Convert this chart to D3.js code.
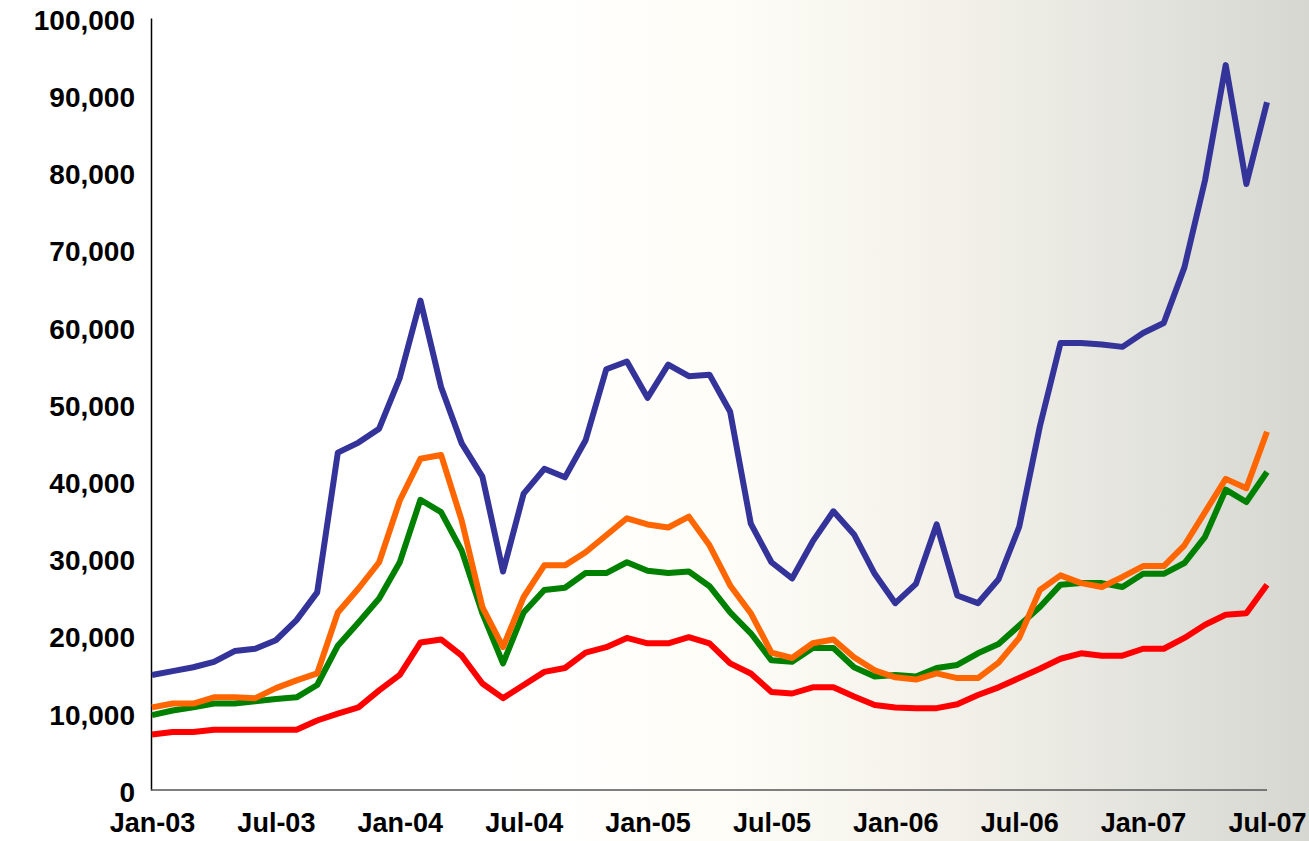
<!DOCTYPE html>
<html>
<head>
<meta charset="utf-8">
<script src="https://cdn.jsdelivr.net/npm/d3@7"></script>
<style>
  html, body { margin: 0; padding: 0; background: #fff; }
  svg { display: block; }
  .tick text { font-family: "Liberation Sans", Arial, sans-serif; font-weight: bold; font-size: 28px; fill: #000; }
  .x-axis .tick text { font-size: 27px; }
</style>
</head>
<body>
<svg></svg>
<script>
"use strict"

// monthly values, Jan-03 .. Jul-07
let blue = [14900, 15400, 15900, 16600, 18000, 18300, 19400, 22000, 25600, 43700,
  45000, 46800, 53400, 63400, 52200, 44900, 40600, 28300, 38400, 41600,
  40500, 45300, 54500, 55500, 50800, 55100, 53600, 53800, 49000, 34500,
  29500, 27400, 32200, 36100, 33100, 28000, 24200, 26700, 34400, 25200,
  24200, 27300, 34100, 47100, 57900, 57900, 57700, 57400, 59200, 60500,
  67700, 79000, 93900, 78500, 89100]
let orange = [10700, 11200, 11200, 12000, 12000, 11900, 13200, 14200, 15100, 23000,
  26100, 29500, 37500, 42900, 43400, 34900, 23700, 18500, 25000, 29100,
  29100, 30800, 33000, 35200, 34400, 34000, 35400, 31700, 26500, 22900,
  17800, 17100, 19000, 19500, 17200, 15500, 14600, 14300, 15100, 14500,
  14500, 16500, 19700, 25900, 27800, 26800, 26300, 27600, 29000, 29000,
  31700, 36000, 40300, 39100, 46400]
let green = [9700, 10300, 10700, 11200, 11200, 11500, 11800, 12000, 13600, 18700,
  21700, 24800, 29500, 37600, 36000, 31000, 22900, 16400, 23000, 25900,
  26200, 28100, 28100, 29500, 28400, 28100, 28300, 26400, 23000, 20300,
  16800, 16600, 18400, 18400, 15900, 14700, 14900, 14700, 15800, 16200,
  17700, 18900, 21300, 23700, 26600, 26800, 26800, 26300, 28000, 28000,
  29400, 32800, 38900, 37300, 41200]
let red = [7200, 7500, 7500, 7800, 7800, 7800, 7800, 7800, 9000, 9900,
  10700, 12900, 14900, 19100, 19500, 17400, 13800, 11900, 13600, 15300,
  15800, 17800, 18500, 19700, 19000, 19000, 19800, 19000, 16400, 15100,
  12700, 12500, 13300, 13300, 12100, 11000, 10700, 10600, 10600, 11100,
  12300, 13300, 14500, 15700, 17000, 17700, 17400, 17400, 18300, 18300,
  19700, 21400, 22700, 22900, 26600]

let xTickLabels = ["Jan-03", "Jul-03", "Jan-04", "Jul-04", "Jan-05",
  "Jul-05", "Jan-06", "Jul-06", "Jan-07", "Jul-07"]
let yTicks = [0, 10000, 20000, 30000, 40000, 50000, 60000, 70000, 80000, 90000, 100000]

let series = [
  {name: "blue", values: blue, color: "#333399"},
  {name: "green", values: green, color: "#008000"},
  {name: "orange", values: orange, color: "#ff6600"},
  {name: "red", values: red, color: "#ff0000"}
]

let width = 1309
let height = 841
let svg = d3.select("svg").attr("width", width).attr("height", height)

/* background wash, white on the left, greyish on the right */
let grad = svg.append("defs").append("linearGradient")
  .attr("id", "bg").attr("x1", "0").attr("x2", "1").attr("y1", "0").attr("y2", "0")
grad.append("stop").attr("offset", "0.38").attr("stop-color", "#ffffff")
grad.append("stop").attr("offset", "0.55").attr("stop-color", "#fefdf7")
grad.append("stop").attr("offset", "0.72").attr("stop-color", "#f3f1ea")
grad.append("stop").attr("offset", "0.88").attr("stop-color", "#e3e3dd")
grad.append("stop").attr("offset", "1").attr("stop-color", "#d6d7d1")
svg.append("rect").attr("width", width).attr("height", height).attr("fill", "url(#bg)")

let n = blue.length
let x = d3.scaleLinear().domain([0, n - 1]).range([152, 1267])
let y = d3.scaleLinear().domain([0, 100000]).range([790, 18])

// y axis
let yAxis = svg.append("g")
  .attr("transform", "translate(151,0)")
  .call(d3.axisLeft(y).tickValues(yTicks).tickSize(0).tickPadding(16).tickFormat(d3.format(",")))
yAxis.select(".domain").attr("stroke", "#000").attr("stroke-width", 1.5)
yAxis.selectAll(".tick text").attr("dy", "0.4em")

// x axis: a label every six months
let xAxis = svg.append("g")
  .attr("class", "x-axis")
  .attr("transform", "translate(0,790)")
  .call(d3.axisBottom(x)
    .tickValues(xTickLabels.map((d, i) => i * 6))
    .tickFormat((d, i) => xTickLabels[i])
    .tickSize(0).tickPadding(23))
xAxis.select(".domain").attr("stroke", "#555").attr("stroke-width", 1.5)
  .attr("d", "M151,0H" + x(n - 1))
xAxis.selectAll(".tick text").attr("dy", "0.71em")

let line = d3.line()
  .x((d, i) => x(i))
  .y(d => y(d))

svg.append("g").selectAll("path")
  .data(series)
  .enter()
  .append("path")
  .attr("d", d => line(d.values))
  .attr("fill", "none")
  .attr("stroke", d => d.color)
  .attr("stroke-width", 6)
  .attr("stroke-linejoin", "round")
</script>
</body>
</html>
